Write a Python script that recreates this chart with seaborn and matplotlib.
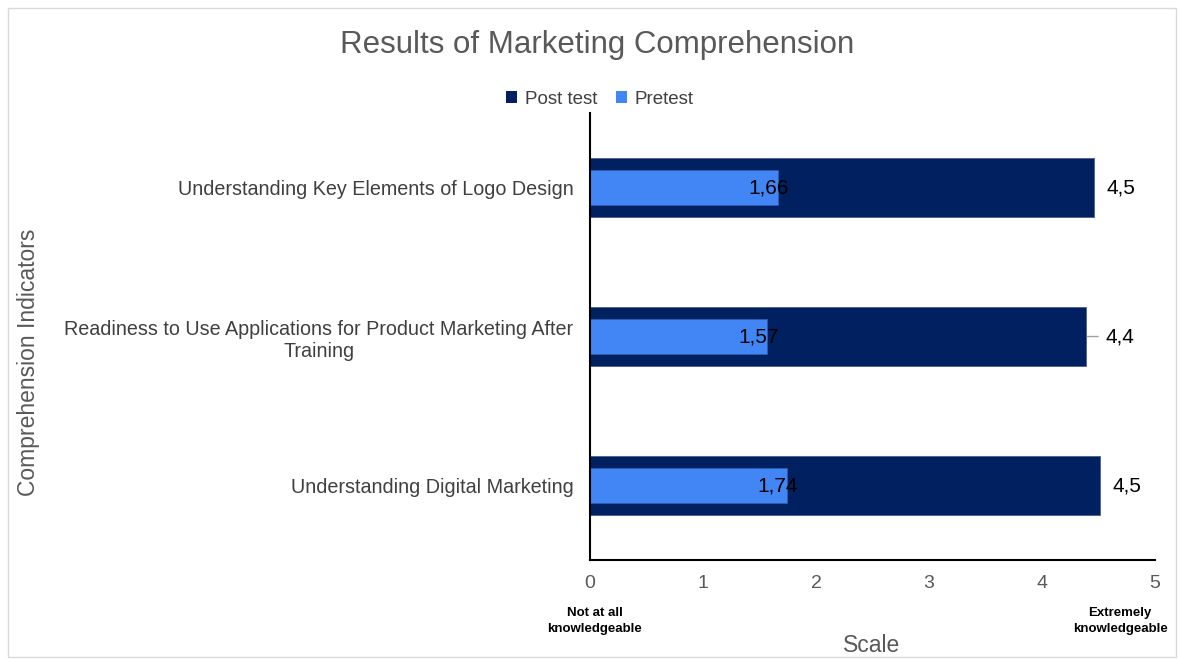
import matplotlib
matplotlib.use("Agg")
import matplotlib.pyplot as plt
import seaborn as sns
import pandas as pd
from matplotlib.patches import Rectangle, Patch

categories = ["Understanding Key Elements of Logo Design",
              "Readiness to Use Applications for Product Marketing After\nTraining",
              "Understanding Digital Marketing"]
post_test = [4.46, 4.39, 4.51]
pretest = [1.66, 1.57, 1.74]
series_names = ["Post test", "Pretest"]
x_ticks = [0, 1, 2, 3, 4, 5]

post_color = "#00205F"
pre_color = "#4285F4"

sns.set_theme(style="white")
plt.rcParams['font.family'] = ['Liberation Sans', 'DejaVu Sans']

df = pd.DataFrame({"cat": categories, "post": post_test, "pre": pretest})

fig = plt.figure(figsize=(11.79, 6.59), dpi=100)
ax = fig.add_axes([0.5004, 0.1502, 0.4792, 0.6783])

sns.barplot(data=df, x="post", y="cat", orient="h", color=post_color,
            width=0.4, ax=ax, saturation=1, edgecolor="#4a5f8f", linewidth=0.6)
sns.barplot(data=df, x="pre", y="cat", orient="h", color=pre_color,
            width=0.23, ax=ax, saturation=1, edgecolor="#3060b0", linewidth=0.5)

ax.set_xlim(0, 5)
ax.set_ylim(2.5, -0.5)
ax.set_xticks(x_ticks)
ax.set_xticklabels([str(t) for t in x_ticks], fontsize=14, color="#595959")
ax.tick_params(axis="x", length=0, pad=11)
ax.tick_params(axis="y", length=0, pad=12, labelsize=14.2, labelcolor="#404040")
for lbl in ax.get_yticklabels():
    lbl.set_multialignment("center")

for side in ["top", "right"]:
    ax.spines[side].set_visible(False)
for side in ["left", "bottom"]:
    ax.spines[side].set_color("black")
    ax.spines[side].set_linewidth(1.5)

ax.set_xlabel("")
ax.set_ylabel("")
fig.text(872 / 1179, 1 - 646 / 659, "Scale", fontsize=16.5, color="#595959",
         ha="center", va="center")
fig.text(0.024, 1 - 362 / 659, "Comprehension Indicators", rotation=90, fontsize=16.5,
         color="#595959", ha="center", va="center")

# value labels
for i, v in enumerate(pretest):
    ax.annotate(f"{v:.2f}".replace(".", ","), xy=(v, i), xytext=(8, 0),
                textcoords="offset points", ha="right", va="center",
                fontsize=15, color="black")
for i, v in enumerate(post_test):
    txt = f"{v:.1f}".replace(".", ",")
    if i == 1:
        ax.annotate(txt, xy=(v, i), xytext=(14, 0), textcoords="offset points",
                    ha="left", va="center", fontsize=15, color="black",
                    arrowprops=dict(arrowstyle="-", color="#a0a0a0", lw=1,
                                    shrinkA=3, shrinkB=1))
    else:
        ax.annotate(txt, xy=(v, i), xytext=(9, 0), textcoords="offset points",
                    ha="left", va="center", fontsize=15, color="black")

# scale end labels
fig.text(595 / 1179, 1 - 621 / 659, "Not at all\nknowledgeable", ha="center",
         va="center", fontsize=9.5, fontweight="bold", color="black",
         linespacing=1.45)
fig.text(1120 / 1179, 1 - 621 / 659, "Extremely\nknowledgeable", ha="center",
         va="center", fontsize=9.5, fontweight="bold", color="black",
         linespacing=1.45)

fig.text(597 / 1179, 1 - 45 / 659, "Results of Marketing Comprehension",
         ha="center", va="center", fontsize=22.5, color="#595959")

handles = [Patch(facecolor=post_color, edgecolor="none"),
           Patch(facecolor=pre_color, edgecolor="none")]
fig.legend(handles, series_names, loc="center", bbox_to_anchor=(600 / 1179, 1 - 99 / 659),
           ncol=2, frameon=False, fontsize=13.5, handlelength=0.6, handleheight=0.6,
           handletextpad=0.4, columnspacing=1.0, labelcolor="#404040")

fig.patches.append(Rectangle((8 / 1179, 2 / 659), 1168 / 1179, 649 / 659,
                             transform=fig.transFigure, fill=False,
                             edgecolor="#d9d9d9", linewidth=1))

fig.savefig("out.png", dpi=100)
